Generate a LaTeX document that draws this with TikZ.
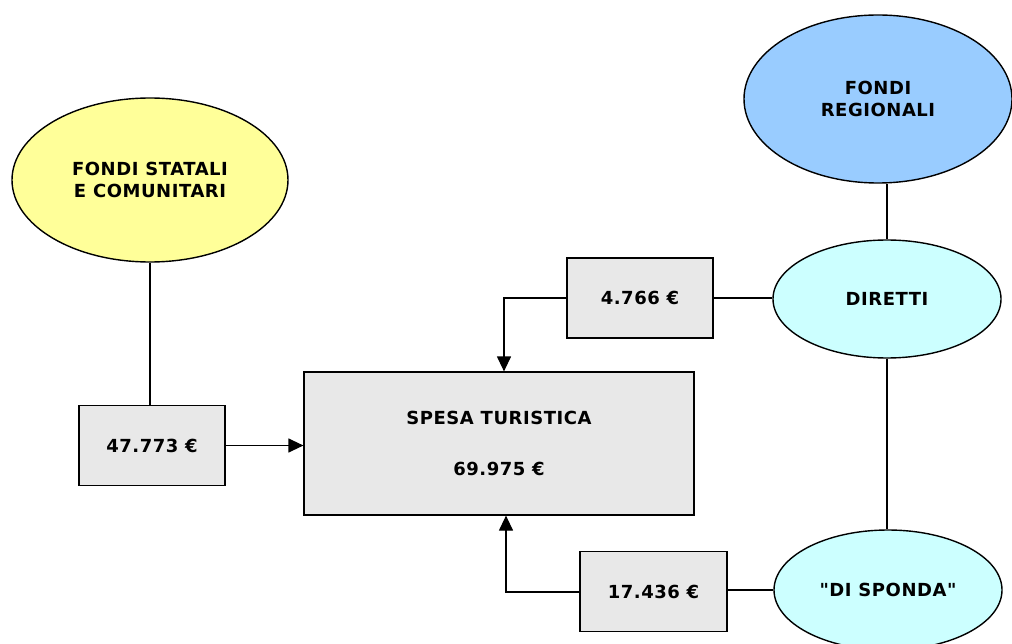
\documentclass[tikz,border=0pt]{standalone}
\usepackage{fontspec}
\usepackage{xcolor}
\usetikzlibrary{shapes.geometric,arrows.meta}
\newfontfamily\diagfont[LetterSpace=3.0]{DejaVu Sans}
\definecolor{fondogiallo}{HTML}{FFFF99}
\definecolor{fondoblu}{HTML}{99CCFF}
\definecolor{fondociano}{HTML}{CCFFFF}
\definecolor{fondogrigio}{HTML}{E8E8E8}
\tikzset{
  fondo/.style={ellipse, draw, line width=1.4pt, align=center, inner sep=0pt},
  importo/.style={rectangle, draw, line width=1.2pt, fill=fondogrigio, minimum width=146pt, minimum height=80pt, inner sep=0pt},
  flusso/.style={line width=1.2pt},
  freccia/.style={line width=1.2pt, -{Triangle[length=15pt,width=14pt]}},
}

\begin{document}
\begin{tikzpicture}[x=1pt, y=-1pt, font=\diagfont\bfseries\fontsize{18}{21.5}\selectfont]
\useasboundingbox (0,0) rectangle (1012,644);
\clip (0,0) rectangle (1012,644);

\node[fondo, fill=fondogiallo, minimum width=276pt, minimum height=164pt] (statali) at (150,180) {FONDI STATALI\\E COMUNITARI};
\node[fondo, fill=fondoblu, minimum width=268pt, minimum height=168pt] (regionali) at (878,99) {FONDI\\REGIONALI};
\node[fondo, fill=fondociano, minimum width=228pt, minimum height=118pt] (diretti) at (887,299) {DIRETTI};
\node[fondo, fill=fondociano, minimum width=228pt, minimum height=120pt] (sponda) at (888,590) {"DI SPONDA"};

\node[importo] (a1) at (152,445.5) {47.773 €};
\node[importo] (a2) at (640,298) {4.766 €};
\node[importo, minimum width=147pt] (a3) at (653.5,591.5) {17.436 €};

\node[importo, minimum width=390pt, minimum height=143pt, align=center] (spesa) at (499,443.5) {SPESA TURISTICA\\[30pt]69.975 €};

\coordinate (c1) at (504,298);
\coordinate (c2) at (506,592);

\draw[flusso] (regionali.south -| diretti.north) -- (diretti.north);
\draw[flusso] (diretti.south) -- (diretti.south |- sponda.north);
\draw[flusso] (statali.south) -- (statali.south |- a1.north);
\draw[freccia] (a1.east) -- (a1.east -| spesa.west);
\draw[flusso] (a2.east) -- (a2.east -| diretti.west);
\draw[freccia] (a2.west) -- (c1) -- (c1 |- spesa.north);
\draw[flusso] (sponda.west) -- (sponda.west -| a3.east);
\draw[freccia] (a3.west |- c2) -- (c2) -- (c2 |- spesa.south);

\end{tikzpicture}
\end{document}
